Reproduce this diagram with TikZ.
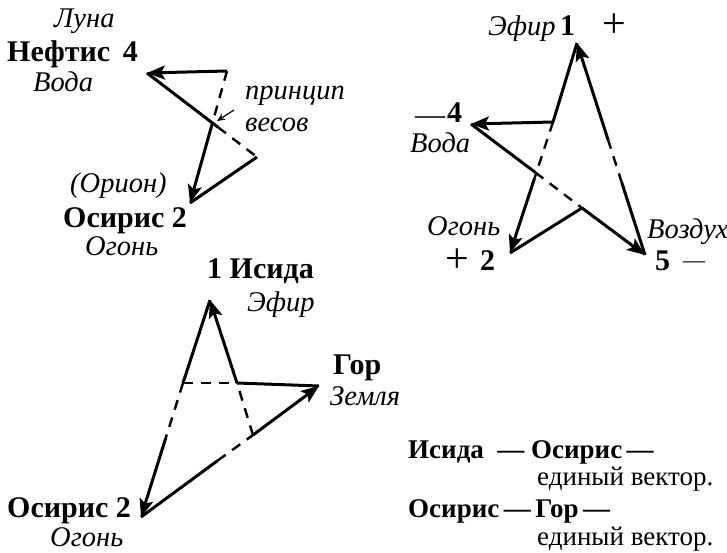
\documentclass[tikz,border=0pt]{standalone}
\usepackage{fontspec}
\setmainfont{Liberation Serif}
\usetikzlibrary{arrows.meta,calc}
\begin{document}
\begin{tikzpicture}[x=1pt,y=-1pt,
  it/.style={font=\fontsize{28.5}{30}\selectfont\itshape, anchor=base west, inner sep=0pt},
  bf/.style={font=\fontsize{30}{32}\selectfont\bfseries, anchor=base west, inner sep=0pt},
  lbf/.style={font=\fontsize{27}{30}\selectfont\bfseries, anchor=base west, inner sep=0pt},
  rm/.style={font=\fontsize{27}{30}\selectfont, anchor=base west, inner sep=0pt},
  sign/.style={font=\fontsize{42}{42}\selectfont, anchor=center, inner sep=0pt},
  solidline/.style={line width=3pt},
  vec/.style={line width=3pt, -{Stealth[length=18pt,width=14pt,inset=4pt]}},
  hidden/.style={line width=2.4pt, dash pattern=on 10pt off 8pt},
]
\useasboundingbox (0,0) rectangle (727,553);

% ---------- left figure ----------
\coordinate (N) at (147,73);
\coordinate (A) at (227,71);
\coordinate (O1) at (190,203);
\coordinate (B) at (257,157);
\coordinate (C) at ($(A)!0.39!(O1)$);
\coordinate (D) at ($(N)!0.645!(B)$);
\draw[vec] (A) -- (N);
\draw[solidline] (N) -- (D);
\draw[hidden] (D) -- (B);
\draw[hidden] (A) -- (C);
\draw[vec] (C) -- (O1);
\draw[solidline] (B) -- (O1);
\coordinate (pa) at (234,110);
\coordinate (pb) at (217,121);
\draw[line width=1.2pt, -{Stealth[length=8pt,width=7pt]}] (pa) -- (pb);

\node[it] (luna) at (54,28) {Луна};
\node[bf] (neftis) at (7,62) {Нефтис\, 4};
\node[it] (voda1) at (33,92) {Вода};
\node[it] (princ) at (245,100) {принцип};
\node[it] (vesov) at (245,132) {весов};
\node[it] (orion) at (70,193) {(Орион)};
\node[bf] (osiris1) at (63,227) {Осирис 2};
\node[it] (ogon1) at (85,255) {Огонь};

% ---------- star ----------
\coordinate (T) at (577,43);
\coordinate (P1) at (553,122);
\coordinate (W) at (471,124);
\coordinate (F) at (510,253);
\coordinate (V) at (645,255);
\coordinate (P2) at (582,208);
\coordinate (V1) at ($(V)!0.34!(T)$);
\coordinate (V2) at ($(V)!0.54!(T)$);
\coordinate (F1) at ($(P1)!0.43!(F)$);
\coordinate (W1) at ($(W)!0.37!(V)$);
\draw[vec] (P1) -- (W);
\draw[solidline] (P1) -- (T);
\draw[solidline] (V) -- (V1);
\draw[hidden] (V1) -- (V2);
\draw[vec] (V2) -- (T);
\draw[hidden] (P1) -- (F1);
\draw[vec] (F1) -- (F);
\draw[solidline] (W) -- (W1);
\draw[hidden] (W1) -- (P2);
\draw[vec] (P2) -- (V);
\draw[solidline] (P2) -- (F);

\node[it] (efir1) at (488,36) {Эфир};
\node[bf] (one1) at (560,36) {1};
\node[sign] (plus1) at (614,26) {+};
\node[font=\fontsize{30}{30}\selectfont, anchor=base west, inner sep=0pt] (m4) at (415,125) {—};
\node[bf] (four) at (447,123) {4};
\node[it] (voda2) at (410,153) {Вода};
\node[it] (ogon2) at (427,236) {Огонь};
\node[sign] (plus2) at (457,261) {+};
\node[bf] (two) at (480,270) {2};
\node[it] (vozd) at (647,238) {Воздух};
\node[bf] (five) at (655,270) {5};
\node[font=\fontsize{22}{22}\selectfont, anchor=base west, inner sep=0pt] (m5) at (683,267) {—};

% ---------- bottom figure ----------
\coordinate (I) at (210,300);
\coordinate (Q) at (183,383);
\coordinate (R) at (237,383);
\coordinate (G) at (319,386);
\coordinate (O2) at (141,517);
\coordinate (S) at (253,435);
\coordinate (Q1) at ($(Q)!0.41!(O2)$);
\coordinate (O3) at ($(O2)!0.43!(G)$);
\draw[solidline] (Q) -- (I);
\draw[hidden] (S) -- (R);
\draw[vec] (R) -- (I);
\draw[hidden] (Q) -- (R);
\draw[solidline] (R) -- (G);
\draw[hidden] (Q) -- (Q1);
\draw[vec] (Q1) -- (O2);
\draw[solidline] (O2) -- (O3);
\draw[hidden] (O3) -- (S);
\draw[vec] (S) -- (G);

\node[bf] (isida) at (207,278) {1 Исида};
\node[it] (efir2) at (247,311) {Эфир};
\node[bf] (gor) at (333,374) {Гор};
\node[it] (zemlya) at (330,405) {Земля};
\node[bf] (osiris2) at (7,517) {Осирис 2};
\node[it] (ogon3) at (50,546) {Огонь};

% ---------- legend ----------
\node[lbf] (leg1) at (408,458) {Исида\ \ —\ Осирис\,—};
\node[rm] (leg2) at (537,485) {единый вектор.};
\node[lbf] (leg3) at (408,517) {Осирис\,—\,Гор\,—};
\node[rm] (leg4) at (537,545) {единый вектор.};
\end{tikzpicture}
\end{document}
